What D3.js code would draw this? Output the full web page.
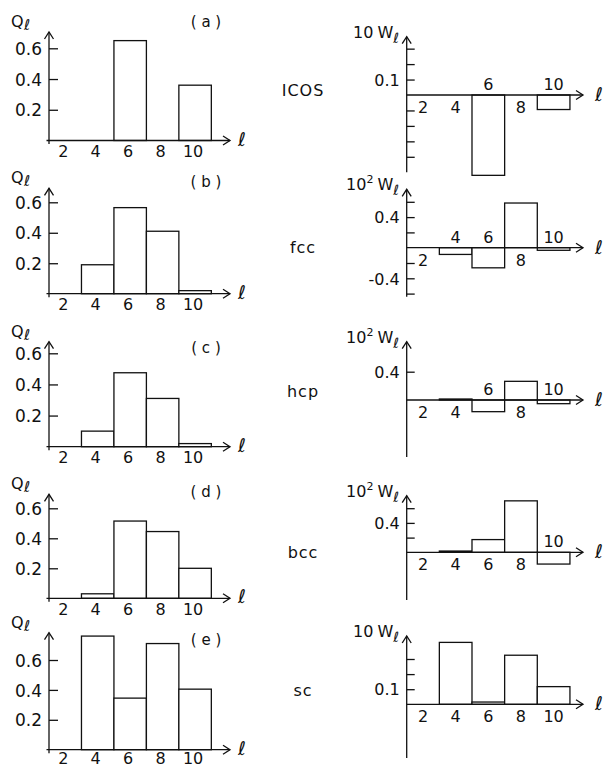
<!DOCTYPE html>
<html>
<head>
<meta charset="utf-8">
<script src="https://cdn.jsdelivr.net/npm/d3@7"></script>
<style>
  html, body { margin: 0; padding: 0; background: #fff; }
  svg { display: block; }
  text { font-family: "DejaVu Sans", "Liberation Sans", sans-serif; fill: #111; }
</style>
</head>
<body>
<svg id="fig" width="607" height="768"></svg>
<script>
// Bond-orientational invariants Q_l and W_l for five cluster geometries
const ells = [4, 6, 8, 10];
const tickElls = [2, 4, 6, 8, 10];
const structures = ["ICOS", "fcc", "hcp", "bcc", "sc"];
const panelTags = ["( a )", "( b )", "( c )", "( d )", "( e )"];

// Q_l for l = 4, 6, 8, 10
const qIcos = [0, 0.65, 0, 0.36];
const qFcc  = [0.19, 0.565, 0.41, 0.02];
const qHcp  = [0.10, 0.475, 0.31, 0.02];
const qBcc  = [0.03, 0.515, 0.445, 0.20];
const qSc   = [0.76, 0.345, 0.71, 0.405];

// Scaled W_l (10 W_l or 10^2 W_l) for l = 4, 6, 8, 10
const wIcos = [0, -0.52, 0, -0.094];
const wFcc  = [-0.088, -0.263, 0.584, -0.034];
const wHcp  = [0.014, -0.165, 0.264, -0.052];
const wBcc  = [0.017, 0.173, 0.70, -0.16];
const wSc   = [0.41, 0.015, 0.325, 0.117];

const qSeries = [qIcos, qFcc, qHcp, qBcc, qSc];
const wSeries = [wIcos, wFcc, wHcp, wBcc, wSc];

// W axis prefactor exponent: 10^1 or 10^2
const wPowers = ["", "2", "2", "2", ""];

// Q axis ticks
const qTicks = [0.2, 0.4, 0.6];

// W axis ticks and which ones carry labels
const wTicks = [
  [-0.4, -0.3, -0.2, -0.1, 0.1, 0.2, 0.3],
  [-0.6, -0.4, -0.2, 0.2, 0.4, 0.6],
  [0.4],
  [0.2, 0.4, 0.6],
  [0.1, 0.2, 0.3]
];
const wTickLabels = [[0.1], [-0.4, 0.4], [0.4], [0.4], [0.1]];
const wRefValue = [0.1, 0.2, 0.4, 0.2, 0.1];

// ---- layout ----
const leftRows = [
  { axisY: 140.5, topY: 32,    y06: 48.3,  tagY: 27,  lblDy: 16.5 },
  { axisY: 293.7, topY: 188.3, y06: 202.3, tagY: 187, lblDy: 16.5 },
  { axisY: 446.7, topY: 341.7, y06: 353.3, tagY: 353, lblDy: 16.5 },
  { axisY: 598.3, topY: 494.3, y06: 508.3, tagY: 497, lblDy: 16.5 },
  { axisY: 749.7, topY: 632.7, y06: 660,   tagY: 645, lblDy: 14 }
];
const rightRows = [
  { axisY: 95,    topY: 36.7,  botY: 172.3, refPx: 15.45, nameY: 96 },
  { axisY: 247.7, topY: 189.3, botY: 296.7, refPx: 15.3,  nameY: 253 },
  { axisY: 400,   topY: 341.7, botY: 457,   refPx: 28.3,  nameY: 397 },
  { axisY: 552.3, topY: 495.7, botY: 600,   refPx: 14.7,  nameY: 558 },
  { axisY: 704.3, topY: 636,   botY: 758,   refPx: 15.1,  nameY: 696 }
];

const svg = d3.select("#fig");
const ink = "#111";
const lw = 1.3;

const xLeft = d3.scaleLinear().domain([1, 12.15]).range([49, 230]);
const xRight = d3.scaleLinear().domain([1, 11.8]).range([406.7, 583]);
const barHalf = 1; // bars span l-1 .. l+1

function arrowUp(g, x, y) {
  g.append("path")
    .attr("d", `M${x - 4.5},${y + 7} L${x},${y} L${x + 4.5},${y + 7}`)
    .attr("fill", "none").attr("stroke", ink).attr("stroke-width", lw);
}
function arrowRight(g, x, y) {
  g.append("path")
    .attr("d", `M${x - 7},${y - 4.5} L${x},${y} L${x - 7},${y + 4.5}`)
    .attr("fill", "none").attr("stroke", ink).attr("stroke-width", lw);
}
function ellLabel(g, x, y) {
  g.append("text").attr("x", x).attr("y", y)
    .attr("font-size", 19).attr("font-style", "italic")
    .text("ℓ");
}

// ---- left column: Q_l histograms ----
leftRows.forEach((row, i) => {
  const g = svg.append("g");
  const y = d3.scaleLinear().domain([0, 0.6]).range([row.axisY, row.y06]);
  const x0 = xLeft(1);

  // bars
  const data = ells.map((l, k) => ({ l, v: qSeries[i][k] })).filter(d => d.v > 0);
  g.selectAll("rect").data(data).join("rect")
    .attr("x", d => xLeft(d.l - barHalf))
    .attr("width", d => xLeft(d.l + barHalf) - xLeft(d.l - barHalf))
    .attr("y", d => y(d.v))
    .attr("height", d => y(0) - y(d.v))
    .attr("fill", "#fff").attr("stroke", ink).attr("stroke-width", lw);

  // y ticks (inward) with labels
  const yAxis = d3.axisLeft(y).tickValues(qTicks)
    .tickSizeInner(-9).tickSizeOuter(0).tickPadding(7)
    .tickFormat(d3.format(".1f"));
  const ya = g.append("g").attr("transform", `translate(${x0},0)`).call(yAxis);
  ya.select(".domain").remove();
  ya.selectAll(".tick line").attr("stroke", ink).attr("stroke-width", lw);
  ya.selectAll(".tick text").attr("font-size", 17).attr("fill", ink)
    .attr("font-family", "DejaVu Sans").attr("dy", "0.36em");

  // axes lines
  g.append("line").attr("x1", x0).attr("x2", x0)
    .attr("y1", row.axisY + 3.5).attr("y2", row.topY)
    .attr("stroke", ink).attr("stroke-width", lw);
  arrowUp(g, x0, row.topY);
  g.append("line").attr("x1", x0 - 2.5).attr("x2", xLeft(12.15))
    .attr("y1", row.axisY).attr("y2", row.axisY)
    .attr("stroke", ink).attr("stroke-width", lw);
  arrowRight(g, xLeft(12.15), row.axisY);
  ellLabel(g, 238, row.axisY + 5);

  // x tick labels
  g.selectAll("text.xl").data(tickElls).join("text").attr("class", "xl")
    .attr("x", d => xLeft(d) - 2).attr("y", row.axisY + row.lblDy)
    .attr("text-anchor", "middle").attr("font-size", 16)
    .text(d => d);

  // Q_l axis title
  const qt = g.append("text").attr("x", 11).attr("y", row.topY - 5).attr("font-size", 16);
  qt.append("tspan").text("Q");
  qt.append("tspan").attr("dy", 3).attr("dx", 0.5).attr("font-size", 15)
    .attr("font-style", "italic").text("ℓ");

  // panel tag
  g.append("text").attr("x", 206).attr("y", row.tagY)
    .attr("text-anchor", "middle").attr("font-size", 15)
    .text(panelTags[i]);
});

// ---- right column: W_l histograms ----
rightRows.forEach((row, i) => {
  const g = svg.append("g");
  const ref = wRefValue[i];
  const y = d3.scaleLinear().domain([0, ref]).range([row.axisY, row.axisY - row.refPx]);
  const x0 = xRight(1);

  const data = ells.map((l, k) => ({ l, v: wSeries[i][k] })).filter(d => d.v !== 0);
  g.selectAll("rect").data(data).join("rect")
    .attr("x", d => xRight(d.l - barHalf))
    .attr("width", d => xRight(d.l + barHalf) - xRight(d.l - barHalf))
    .attr("y", d => Math.min(y(d.v), y(0)))
    .attr("height", d => Math.abs(y(0) - y(d.v)))
    .attr("fill", "#fff").attr("stroke", ink).attr("stroke-width", lw);

  const fmt = d3.format(".1f");
  const yAxis = d3.axisLeft(y).tickValues(wTicks[i])
    .tickSizeInner(-8).tickSizeOuter(0).tickPadding(7)
    .tickFormat(d => wTickLabels[i].includes(d) ? fmt(d).replace("−", "-") : "");
  const ya = g.append("g").attr("transform", `translate(${x0},0)`).call(yAxis);
  ya.select(".domain").remove();
  ya.selectAll(".tick line").attr("stroke", ink).attr("stroke-width", lw);
  ya.selectAll(".tick text").attr("font-size", 16).attr("fill", ink)
    .attr("font-family", "DejaVu Sans").attr("dy", "0.36em");

  g.append("line").attr("x1", x0).attr("x2", x0)
    .attr("y1", row.botY).attr("y2", row.topY)
    .attr("stroke", ink).attr("stroke-width", lw);
  arrowUp(g, x0, row.topY);
  g.append("line").attr("x1", x0).attr("x2", xRight(11.8))
    .attr("y1", row.axisY).attr("y2", row.axisY)
    .attr("stroke", ink).attr("stroke-width", lw);
  arrowRight(g, xRight(11.8), row.axisY);
  ellLabel(g, 595, row.axisY + 6);

  // x tick labels: above the axis where the bar hangs below it
  const valAt = l => { const k = ells.indexOf(l); return k < 0 ? 0 : wSeries[i][k]; };
  g.selectAll("text.xl").data(tickElls).join("text").attr("class", "xl")
    .attr("x", d => xRight(d))
    .attr("y", d => valAt(d) < 0 ? row.axisY - 5 : row.axisY + 18)
    .attr("text-anchor", "middle").attr("font-size", 16)
    .text(d => d);

  // W_l axis title
  const wt = g.append("text").attr("x", 399).attr("y", row.topY + 1)
    .attr("text-anchor", "end").attr("font-size", 16);
  wt.append("tspan").text("10");
  if (wPowers[i]) wt.append("tspan").attr("dy", -7).attr("font-size", 11).text(wPowers[i]);
  wt.append("tspan").attr("dy", wPowers[i] ? 7 : 0).attr("dx", 4).text("W");
  wt.append("tspan").attr("dy", 5).attr("font-size", 14)
    .attr("font-style", "italic").text("ℓ");

  // structure name
  g.append("text").attr("x", 303).attr("y", row.nameY)
    .attr("text-anchor", "middle").attr("font-size", 16)
    .attr("letter-spacing", 1).text(structures[i]);
});
</script>
</body>
</html>
